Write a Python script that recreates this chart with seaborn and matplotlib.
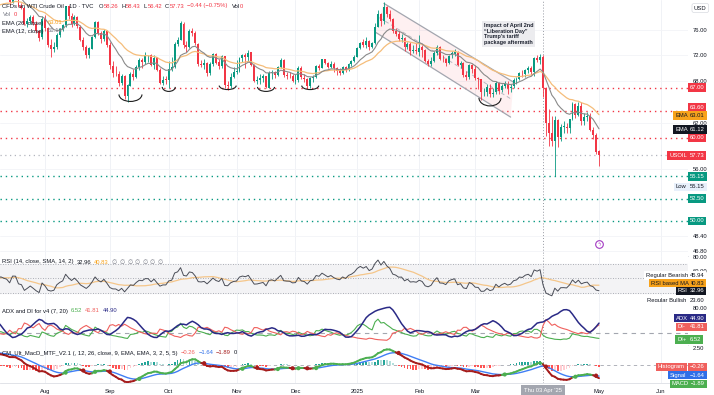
import numpy as np
import pandas as pd
import matplotlib
matplotlib.use("Agg")
import matplotlib.pyplot as plt
import seaborn as sns
from matplotlib.collections import LineCollection
from matplotlib.patches import Arc, Polygon
from matplotlib.transforms import ScaledTranslation
from matplotlib.ticker import FixedLocator, FuncFormatter, NullLocator

# ---------------- data (daily candles, TVC:USOIL) ----------------
holidays = ["2024-06-19", "2024-07-04", "2024-09-02", "2024-11-28", "2024-12-25",
            "2025-01-01", "2025-01-20", "2025-02-17", "2025-04-18", "2025-05-26"]

opens = [
    77.0, 74.2, 73.3, 74.1, 75.6, 75.6, 77.7, 78.9, 78.5, 78.6, 78.4, 80.3, 81.6, 82.1, 80.7, 81.6, 80.8, 80.9, 81.7,
    81.6, 83.4, 82.8, 83.8, 83.1, 82.3, 81.4, 82.1, 82.6, 82.2, 81.9, 80.7, 82.8, 82.8, 80.1, 79.8, 77.0, 77.6, 78.3, 77.1, 75.8, 74.8,
    77.9, 76.3, 73.5, 72.9, 73.2, 75.2, 76.2, 76.8, 80.1, 78.4, 77.0, 78.2, 76.6, 74.4, 73.2, 71.9, 73.0, 74.8, 77.4, 75.5, 74.5, 75.9,
    73.5, 70.3, 69.2, 69.1, 67.7, 68.7, 65.8, 67.3, 69.0, 68.6, 70.1, 71.2, 70.9, 71.9, 71.9, 70.4, 71.6, 69.7, 67.7, 68.2,
    68.2, 69.8, 70.1, 73.7, 74.4, 77.1, 73.6, 73.2, 75.9, 75.5, 73.8, 70.6, 70.4, 70.7, 69.2, 70.6, 72.1, 70.8, 70.2, 71.8, 67.4, 67.2, 68.6,
    69.3, 69.5, 71.5, 72.0, 71.7, 72.4, 70.4, 68.0, 68.1, 68.4, 68.7, 67.0, 69.2, 69.4, 68.9, 70.1, 71.2, 68.9, 68.8, 68.7,
    68.0, 68.1, 69.9, 68.5, 68.3, 67.2, 68.4, 68.6, 70.3, 70.0, 71.3, 70.7, 70.1, 70.6, 69.9, 69.5, 69.2, 70.1, 69.6, 70.6, 71.0,
    71.7, 73.1, 74.0, 73.6, 74.2, 73.3, 73.9, 76.6, 78.8, 77.5, 80.0, 78.7, 77.9, 75.8, 75.4, 74.6, 74.7, 73.2, 73.8, 72.6, 72.7,
    72.5, 73.2, 72.7, 71.0, 70.6, 71.0, 72.3, 73.3, 71.4, 71.3, 70.7, 71.9, 72.2, 72.5, 70.4, 70.7, 68.9, 68.6, 70.4,
    69.8, 68.4, 68.3, 66.3, 66.4, 67.0, 66.0, 66.3, 67.7, 66.6, 67.2, 67.6, 66.9, 67.2, 68.1, 68.3, 69.1, 69.0, 69.7, 69.9, 69.4,
    71.5, 71.2, 71.7, 67.0, 62.0, 60.7, 59.6, 62.4, 60.1, 61.5, 61.5, 61.3, 62.5, 64.7, 63.1, 64.3, 62.3, 62.8, 63.0, 61.0, 60.4,
    58.26]
highs = [
    77.3, 74.6, 74.6, 75.8, 76.0, 77.9, 79.0, 79.4, 79.0, 79.0, 80.5, 81.7, 82.3, 82.4, 81.8, 81.9, 81.4, 82.0, 82.2,
    83.6, 84.2, 83.9, 84.5, 83.3, 82.5, 82.5, 83.0, 83.0, 82.6, 82.0, 83.0, 83.5, 83.0, 80.7, 80.0, 78.0, 78.6, 78.5, 77.5, 76.1, 78.4,
    78.6, 76.6, 74.6, 74.1, 75.6, 76.4, 77.1, 80.2, 80.3, 79.0, 78.6, 78.4, 76.9, 74.9, 73.6, 73.3, 75.0, 77.6, 77.5, 75.9, 76.2, 76.0,
    74.0, 71.0, 70.2, 69.5, 69.0, 68.9, 67.6, 69.4, 69.8, 70.4, 71.5, 71.5, 72.4, 72.0, 72.1, 72.0, 71.7, 69.9, 68.7, 68.7,
    71.0, 71.7, 74.0, 74.9, 77.6, 77.3, 74.2, 76.2, 76.4, 75.8, 73.9, 71.2, 71.3, 70.9, 70.8, 72.3, 72.3, 71.3, 71.9, 71.8, 68.0, 69.2, 70.1,
    71.2, 71.7, 72.2, 72.3, 72.7, 72.5, 70.5, 68.8, 69.0, 69.1, 68.8, 69.5, 69.7, 69.5, 70.3, 71.5, 71.3, 69.3, 69.4, 69.0,
    69.0, 70.2, 70.2, 69.0, 68.5, 68.6, 68.9, 70.4, 70.6, 71.4, 71.4, 70.9, 71.0, 70.8, 70.1, 70.0, 70.3, 70.3, 70.7, 71.2, 72.0,
    73.3, 74.1, 74.6, 74.9, 74.3, 74.1, 77.2, 79.4, 79.0, 80.8, 80.2, 79.4, 78.0, 76.3, 75.8, 75.3, 74.8, 74.0, 74.0, 73.6, 73.9,
    75.2, 73.5, 73.0, 71.4, 71.6, 72.6, 73.6, 73.4, 71.9, 71.5, 72.0, 72.6, 73.0, 72.6, 71.0, 70.8, 69.5, 70.5, 70.6,
    70.4, 68.6, 68.3, 67.0, 67.6, 67.6, 66.9, 68.0, 67.9, 67.5, 68.0, 68.0, 67.5, 68.4, 68.6, 69.3, 69.7, 69.8, 70.2, 70.2, 71.6,
    71.9, 72.1, 71.9, 67.1, 63.9, 62.9, 62.9, 62.5, 61.9, 62.3, 62.0, 62.6, 64.9, 64.8, 64.9, 64.9, 63.3, 63.5, 63.4, 61.5, 60.6,
    58.43]
lows = [
    73.6, 72.5, 72.8, 73.8, 74.9, 75.3, 77.0, 77.9, 77.7, 77.8, 78.2, 79.9, 81.0, 80.6, 80.4, 80.5, 80.2, 80.4, 81.3,
    81.4, 82.6, 82.3, 82.9, 82.2, 80.9, 81.2, 81.9, 81.8, 81.4, 80.3, 80.6, 82.0, 79.9, 79.6, 76.8, 76.5, 77.0, 76.9, 75.5, 74.2, 74.6,
    75.8, 73.2, 71.7, 72.4, 72.9, 74.8, 75.8, 76.6, 77.9, 76.6, 76.8, 76.3, 74.2, 72.8, 71.5, 71.5, 72.9, 74.7, 75.2, 73.9, 74.2, 73.3,
    69.8, 68.6, 68.7, 67.2, 67.4, 65.3, 64.9, 67.2, 68.2, 68.5, 69.6, 70.0, 70.6, 70.9, 70.2, 69.8, 69.5, 67.5, 67.4, 67.5,
    66.9, 69.5, 70.0, 73.4, 74.3, 73.1, 72.4, 73.1, 75.1, 73.5, 70.2, 70.1, 69.8, 68.8, 68.9, 70.3, 70.5, 69.8, 70.0, 66.9, 66.7, 67.0, 68.4,
    69.0, 69.4, 70.9, 70.0, 71.1, 70.2, 67.9, 67.5, 67.6, 67.9, 66.9, 66.9, 68.3, 68.5, 68.7, 69.9, 68.6, 68.3, 68.4, 67.8,
    67.6, 67.9, 68.3, 67.8, 66.9, 67.0, 67.9, 68.4, 69.6, 69.9, 70.5, 69.9, 69.9, 69.3, 68.9, 68.9, 69.1, 69.4, 69.5, 70.3, 70.8,
    71.6, 72.9, 73.3, 73.1, 72.8, 73.1, 73.8, 76.5, 76.7, 77.1, 78.3, 77.6, 75.6, 75.1, 74.2, 74.0, 72.6, 72.9, 72.0, 72.3, 72.1,
    71.8, 71.7, 70.8, 70.2, 70.2, 70.9, 71.9, 71.2, 70.8, 70.2, 70.6, 71.5, 71.8, 70.2, 70.0, 68.6, 68.1, 68.3, 69.2,
    68.1, 66.8, 65.2, 65.8, 65.8, 65.6, 65.6, 66.1, 66.0, 66.3, 66.9, 66.0, 66.3, 66.9, 67.6, 68.1, 68.6, 68.6, 69.2, 68.9, 68.7,
    70.9, 70.5, 65.7, 60.2, 58.9, 58.9, 55.15, 58.8, 59.6, 60.6, 60.7, 60.6, 62.4, 62.7, 62.9, 61.7, 61.7, 62.2, 60.9, 59.8, 57.9,
    56.42]
closes = [
    74.22, 73.25, 74.07, 75.55, 75.53, 77.74, 78.90, 78.50, 78.62, 78.45, 80.33, 81.57, 82.17, 80.73, 81.63, 80.83, 80.90, 81.74, 81.54,
    83.38, 82.81, 83.88, 83.16, 82.33, 81.41, 82.10, 82.62, 82.21, 81.91, 80.76, 82.85, 82.82, 80.13, 79.78, 76.96, 77.59, 78.28, 77.16, 75.81, 74.73, 77.91,
    76.31, 73.52, 72.94, 73.20, 75.23, 76.19, 76.84, 80.06, 78.35, 76.98, 78.16, 76.65, 74.37, 73.17, 71.93, 73.01, 74.83, 77.42, 75.53, 74.52, 75.91, 73.55,
    70.34, 69.20, 69.15, 67.67, 68.71, 65.75, 67.31, 68.97, 68.65, 70.09, 71.19, 70.91, 71.95, 71.92, 70.37, 71.56, 69.69, 67.67, 68.18, 68.17,
    69.83, 70.10, 73.71, 74.38, 77.14, 73.57, 73.24, 75.85, 75.56, 73.83, 70.58, 70.39, 70.67, 69.22, 70.56, 72.09, 70.77, 70.19, 71.78, 67.38, 67.21, 68.61, 69.26,
    69.49, 71.47, 71.99, 71.69, 72.36, 70.38, 68.04, 68.12, 68.43, 68.70, 67.02, 69.16, 69.39, 68.87, 70.10, 71.24, 68.94, 68.77, 68.72, 68.00,
    68.10, 69.94, 68.54, 68.30, 67.20, 68.37, 68.59, 70.29, 70.02, 71.29, 70.71, 70.08, 70.58, 69.91, 69.46, 69.24, 70.10, 69.62, 70.60, 70.99, 71.72,
    73.13, 73.96, 73.56, 74.25, 73.32, 73.92, 76.57, 78.82, 77.50, 80.04, 78.68, 77.88, 75.83, 75.44, 74.62, 74.66, 73.17, 73.77, 72.62, 72.73, 72.53,
    73.16, 72.70, 71.03, 70.61, 71.00, 72.32, 73.32, 71.37, 71.29, 70.74, 71.85, 72.25, 72.48, 70.40, 70.70, 68.93, 68.62, 70.35, 69.76,
    68.37, 68.26, 66.31, 66.36, 67.04, 66.03, 66.25, 67.68, 66.55, 67.18, 67.58, 66.90, 67.16, 68.07, 68.28, 69.11, 69.00, 69.65, 69.92, 69.36, 71.48,
    71.20, 71.71, 66.95, 61.99, 60.70, 59.58, 62.35, 60.07, 61.50, 61.53, 61.33, 62.47, 64.68, 63.08, 64.31, 62.27, 62.79, 63.02, 61.05, 60.42, 58.21,
    57.73]

red_levels = [67.00, 63.60, 60.00]
green_levels = [55.15, 52.50, 50.00]
last_close = 57.73

month_labels = ["Aug", "Sep", "Oct", "Nov", "Dec", "2025", "Feb", "Mar", "May", "Jun"]
month_dates = ["2024-08-01", "2024-09-03", "2024-10-01", "2024-11-01", "2024-12-02",
               "2025-01-02", "2025-02-03", "2025-03-03", "2025-05-01", "2025-06-02"]
price_ticks = [76.0, 72.0, 68.0, 62.0, 56.0, 48.4, 46.8]

channel_upper_dates = ["2025-01-15", "2025-03-20"]
channel_upper = [80.6, 67.8]
channel_lower_dates = ["2025-01-10", "2025-03-19"]
channel_lower = [75.7, 62.8]

arc_dates = ["2024-09-12", "2024-10-01", "2024-10-29", "2024-11-15", "2024-12-09", "2025-03-10"]
arc_prices = [66.0, 67.1, 67.3, 67.1, 67.3, 65.5]
crosshair_date = "2025-04-03"

# sizes (style) of the hand-drawn arcs, pixels
arc_w_px = [23, 13, 17, 17, 17, 22]
arc_h_px = [14, 9, 8, 9, 8, 16]

# ---------------- frame ----------------
hol = np.array(holidays, dtype="datetime64[D]")
dates = pd.bdate_range("2024-06-03", "2025-05-01", freq="C", holidays=holidays)
assert len(dates) == len(opens) == len(highs) == len(lows) == len(closes)
df = pd.DataFrame({"open": opens, "high": highs, "low": lows, "close": closes}, index=dates)
df["x"] = np.arange(len(df), dtype=float)


def pos(d):
    d = pd.Timestamp(d)
    if d in df.index:
        return float(df.index.get_loc(d))
    return float(len(df) - 1 + np.busday_count(np.datetime64(df.index[-1].date()),
                                               np.datetime64(d.date()), holidays=hol))


# ---------------- indicators ----------------
c = df["close"]
df["ema12"] = c.ewm(span=12, adjust=False).mean()
df["ema26"] = c.ewm(span=26, adjust=False).mean()
delta = c.diff()
gain = delta.clip(lower=0).ewm(alpha=1 / 14, adjust=False).mean()
loss = (-delta).clip(lower=0).ewm(alpha=1 / 14, adjust=False).mean()
df["rsi"] = 100 - 100 / (1 + gain / loss)
df["rsi_ma"] = df["rsi"].rolling(14).mean()

h, l, cl = df["high"].values, df["low"].values, df["close"].values
n = len(cl)
tr = np.zeros(n); dmp = np.zeros(n); dmm = np.zeros(n)
tr[0] = h[0] - l[0]
for i in range(1, n):
    tr[i] = max(h[i] - l[i], abs(h[i] - cl[i - 1]), abs(l[i] - cl[i - 1]))
    upm, dnm = h[i] - h[i - 1], l[i - 1] - l[i]
    dmp[i] = max(upm, 0) if upm > dnm else 0
    dmm[i] = max(dnm, 0) if dnm > upm else 0
LEN = 7
s_tr = np.zeros(n); s_p = np.zeros(n); s_m = np.zeros(n)
for i in range(n):
    ptr, pp, pm = (s_tr[i - 1], s_p[i - 1], s_m[i - 1]) if i else (0.0, 0.0, 0.0)
    s_tr[i] = ptr - ptr / LEN + tr[i]
    s_p[i] = pp - pp / LEN + dmp[i]
    s_m[i] = pm - pm / LEN + dmm[i]
df["di_p"] = s_p / s_tr * 100
df["di_m"] = s_m / s_tr * 100
dx = np.abs(df["di_p"] - df["di_m"]) / (df["di_p"] + df["di_m"]) * 100
df["adx"] = dx.rolling(LEN).mean()

df["macd"] = df["ema12"] - df["ema26"]
df["signal"] = df["macd"].ewm(span=9, adjust=False).mean()
df["hist"] = df["macd"] - df["signal"]

# ---------------- style ----------------
sns.set_theme(style="white")
plt.rcParams["font.family"] = ["Liberation Sans", "DejaVu Sans"]
plt.rcParams["axes.unicode_minus"] = True
GREEN, RED, TXT = "#089981", "#f23645", "#131722"
FS = 4.2
W, H = 714, 395
PLOT_R = 688

fig = plt.figure(figsize=(W / 100, H / 100), dpi=100, facecolor="white")


def pane(top, bottom, share=None):
    return fig.add_axes([0, 1 - bottom / H, PLOT_R / W, (bottom - top) / H], sharex=share)


ax_p = pane(0, 256)
ax_r = pane(256, 302, ax_p)
ax_a = pane(302, 345, ax_p)
ax_m = pane(345, 383, ax_p)
axes = [ax_p, ax_r, ax_a, ax_m]

x0, x1 = pos("2024-08-01"), pos("2025-05-01")
PXB = (599 - 45) / (x1 - x0)
xlim = (x0 - 45 / PXB, x1 + (PLOT_R - 599) / PXB)
month_pos = [pos(d) for d in month_dates]
vis = df[df["x"] >= xlim[0] - 2]

# ---------------- main price pane ----------------
up = vis["close"] >= vis["open"]
col = np.where(up, GREEN, RED)
ax_p.vlines(vis["x"], vis["low"], vis["high"], colors=col, lw=0.6, zorder=3)
ax_p.bar(vis["x"], np.maximum((vis["close"] - vis["open"]).abs(), 0.04),
         bottom=np.minimum(vis["open"], vis["close"]), width=0.66, color=col, lw=0, zorder=4)
sns.lineplot(data=vis, x="x", y="ema26", ax=ax_p, color="#f5bd7a", lw=0.9, zorder=5, legend=False)
sns.lineplot(data=vis, x="x", y="ema12", ax=ax_p, color="#8a8a8a", lw=0.8, zorder=5, legend=False)

for v in red_levels:
    ax_p.axhline(v, color=RED, ls=(0, (1, 2.8)), lw=1.0, zorder=2)
for v in green_levels:
    ax_p.axhline(v, color=GREEN, ls=(0, (1, 2.8)), lw=1.0, zorder=2)
ax_p.axhline(last_close, color="#b2b5be", ls=(0, (1, 2.8)), lw=0.9, zorder=2)

# descending channel
xu = [pos(d) for d in channel_upper_dates]
xl = [pos(d) for d in channel_lower_dates]
ax_p.add_patch(Polygon([(xu[0], channel_upper[0]), (xu[1], channel_upper[1]),
                        (xl[1], channel_lower[1]), (xl[0], channel_lower[0])],
                       closed=True, fc=RED, alpha=0.07, ec="none", zorder=1))
ax_p.plot(xu, channel_upper, color="#a3a6af", lw=0.9, zorder=2)
ax_p.plot(xl, channel_lower, color="#a3a6af", lw=0.9, zorder=2)
ax_p.plot([(xu[0] + xl[0]) / 2, (xu[1] + xl[1]) / 2],
          [np.sqrt(channel_upper[0] * channel_lower[0]), np.sqrt(channel_upper[1] * channel_lower[1])],
          color="#b8bac2", lw=0.7, ls=(0, (4, 3)), zorder=2)

ax_p.set_yscale("log")
ax_p.set_ylim(46.3, 81.2)
ax_p.yaxis.set_major_locator(FixedLocator(price_ticks))
ax_p.yaxis.set_major_formatter(FuncFormatter(lambda v, _: f"{v:.2f}"))
ax_p.yaxis.set_minor_locator(NullLocator())
ax_p.grid(axis="y", color="#f3f4f7", lw=0.6)

# ---------------- RSI pane ----------------
ax_r.axhspan(30, 70, color="#f3f3f5", zorder=0)
for v in (70, 50, 30):
    ax_r.axhline(v, color="#9598a1", ls=(0, (1, 2)), lw=0.6, zorder=1)
sns.lineplot(data=vis, x="x", y="rsi_ma", ax=ax_r, color="#f5c68a", lw=0.9, legend=False)
sns.lineplot(data=vis, x="x", y="rsi", ax=ax_r, color="#4a4d57", lw=0.7, legend=False)
ax_r.set_ylim(17.6, 81.0)
ax_r.set_yticks([80, 60])
ax_r.yaxis.set_major_formatter(FuncFormatter(lambda v, _: f"{v:.2f}"))

# ---------------- ADX pane ----------------
ax_a.axhline(20, color="#a3a6af", ls=(0, (4, 4)), lw=0.8, zorder=1)
sns.lineplot(data=vis, x="x", y="di_p", ax=ax_a, color="#4caf50", lw=0.8, legend=False)
sns.lineplot(data=vis, x="x", y="di_m", ax=ax_a, color="#f0605d", lw=0.8, legend=False)
sns.lineplot(data=vis, x="x", y="adx", ax=ax_a, color="#2a2a86", lw=1.1, legend=False)
ax_a.set_ylim(-9.8, 95.1)
ax_a.set_yticks([80])
ax_a.yaxis.set_major_formatter(FuncFormatter(lambda v, _: f"{v:.2f}"))

# ---------------- MACD pane ----------------
hv = vis["hist"].values
hp = np.r_[hv[0], hv[:-1]]
hcol = np.where(hv >= 0, np.where(hv >= hp, "#26a69a", "#b2dfdb"),
                np.where(hv < hp, "#ff5252", "#ffcdd2"))
ax_m.bar(vis["x"], hv, width=0.6, color=hcol, lw=0, zorder=2)
ax_m.axhline(0, color="#a3a6af", ls=(0, (4, 4)), lw=0.6, zorder=1)
sns.lineplot(data=vis, x="x", y="signal", ax=ax_m, color="#3f7ef5", lw=1.0, legend=False, zorder=3)
mx, mv, sv = vis["x"].values, vis["macd"].values, vis["signal"].values
segs = np.stack([np.c_[mx[:-1], mv[:-1]], np.c_[mx[1:], mv[1:]]], axis=1)
scol = np.where(mv[1:] >= sv[1:], "#4caf50", "#a51c1c")
ax_m.add_collection(LineCollection(segs, colors=scol, linewidths=1.4, zorder=4, capstyle="round"))
above = mv >= sv
cross = np.where(above[1:] != above[:-1])[0] + 1
ax_m.scatter(mx[cross], sv[cross], s=9, c=np.where(above[cross], "#4caf50", "#a51c1c"), zorder=5, lw=0)
ax_m.set_ylim(-2.65, 2.94)
ax_m.set_yticks([2.5])
ax_m.yaxis.set_major_formatter(FuncFormatter(lambda v, _: f"{v:.2f}"))

# ---------------- common axes styling ----------------
for ax in axes:
    ax.set_xlim(*xlim)
    ax.set_xlabel("")
    ax.set_ylabel("")
    ax.yaxis.tick_right()
    ax.tick_params(axis="both", length=0, labelsize=FS, colors=TXT, pad=3.6)
    ax.set_xticks(month_pos)
    ax.grid(axis="x", color="#f0f2f6", lw=0.7)
    ax.set_axisbelow(True)
    for s in ax.spines.values():
        s.set_visible(False)
    ax.spines["bottom"].set_visible(True)
    ax.spines["bottom"].set_color("#dcdee4")
    ax.spines["bottom"].set_linewidth(0.6)
    ax.axvline(pos(crosshair_date), color="#9598a1", ls=(0, (1, 2)), lw=0.7, zorder=1)
for ax in axes[:-1]:
    ax.tick_params(labelbottom=False)
ax_m.set_xticklabels(month_labels)
ax_m.tick_params(axis="x", pad=4.5)

# hand-drawn arcs under the lows
for d, p, w, hh in zip(arc_dates, arc_prices, arc_w_px, arc_h_px):
    tr_ = fig.dpi_scale_trans + ScaledTranslation(pos(d), p, ax_p.transData)
    ax_p.add_patch(Arc((0, 0), w / 100, hh / 100, theta1=180, theta2=360,
                       transform=tr_, color="#1e1e1e", lw=0.8, zorder=6))

# annotation box
ax_p.text(484 / PLOT_R, 1 - 23 / 256,
          "Impact of April 2nd\n\u201cLiberation Day\u201d\nTrump\u2019s tariff\npackage aftermath",
          transform=ax_p.transAxes, ha="left", va="top", fontsize=4.0, fontweight="bold",
          color="#1e2330", linespacing=1.15, zorder=8,
          bbox=dict(boxstyle="square,pad=0.35", fc="#ececef", ec="none"))

# purple icon
ax_p.plot([pos("2025-05-01")], [47.5], marker="o", ms=5.5, mfc="white", mec="#a33ac2", mew=0.8, zorder=7)
ax_p.text(pos("2025-05-01"), 47.5, "\u03df", color="#a33ac2", fontsize=3.6, ha="center", va="center", zorder=8,
          family=["DejaVu Sans"])


# ---------------- right-side value tags ----------------
def tag(ax, y, text, fc, tc="white", xpx=690, dy=0, ec="none"):
    ax.annotate(text, xy=(xpx / PLOT_R, y), xycoords=("axes fraction", "data"),
                xytext=(0, dy), textcoords="offset pixels", ha="left", va="center",
                fontsize=FS, color=tc, annotation_clip=False, zorder=20,
                bbox=dict(boxstyle="square,pad=0.3", fc=fc, ec=ec, lw=0.4))


ORANGE = "#f7a21b"
tag(ax_p, 67.00, "67.00", RED)
tag(ax_p, 63.60, "63.60", RED, dy=4)
tag(ax_p, 63.01, "63.01", ORANGE, tc=TXT)
tag(ax_p, 63.01, "EMA", ORANGE, tc=TXT, xpx=675)
tag(ax_p, 61.12, "61.12", "#131722")
tag(ax_p, 61.12, "EMA", "#131722", xpx=675)
tag(ax_p, 60.00, "60.00", RED)
tag(ax_p, 57.73, "57.73", RED)
tag(ax_p, 57.73, "USOIL", RED, xpx=669)
tag(ax_p, 55.15, "55.15", GREEN)
tag(ax_p, 55.15, "55.15", "#e8f0fb", tc=TXT, dy=-10.5)
tag(ax_p, 55.15, "Low", "#e8f0fb", tc=TXT, xpx=676, dy=-10.5)
tag(ax_p, 52.50, "52.50", GREEN)
tag(ax_p, 50.00, "50.00", GREEN)
fig.text(694 / W, 1 - 8 / H, "USD", fontsize=FS, color=TXT, ha="left", va="center",
         bbox=dict(boxstyle="round,pad=0.35", fc="white", ec="#d8dae0", lw=0.5))

tag(ax_r, 45.94, "45.94", "white", tc=TXT, dy=6)
tag(ax_r, 45.94, "Regular Bearish", "white", tc=TXT, xpx=646, dy=6)
tag(ax_r, 40.83, "40.83", ORANGE, tc=TXT, dy=2)
tag(ax_r, 40.83, "RSI based MA", ORANGE, tc=TXT, xpx=651, dy=2)
tag(ax_r, 32.96, "32.96", "#131722")
tag(ax_r, 32.96, "RSI", "#131722", xpx=678)
tag(ax_r, 23.60, "23.60", "white", tc=TXT, dy=-2.5)
tag(ax_r, 23.60, "Regular Bullish", "white", tc=TXT, xpx=647, dy=-2.5)

tag(ax_a, 44.90, "44.90", "#2a2a86", dy=4.5)
tag(ax_a, 44.90, "ADX", "#2a2a86", xpx=676, dy=4.5)
tag(ax_a, 41.81, "41.81", "#f0605d", dy=-3)
tag(ax_a, 41.81, "DI-", "#f0605d", xpx=678, dy=-3)
tag(ax_a, 6.52, "6.52", "#4caf50", dy=-1)
tag(ax_a, 6.52, "DI+", "#4caf50", xpx=677, dy=-1)

tag(ax_m, -0.26, "\u22120.26", "#f0605d")
tag(ax_m, -0.26, "Histogram", "#f0605d", xpx=658)
tag(ax_m, -1.64, "\u22121.64", "#2f6fe8", dy=1)
tag(ax_m, -1.64, "Signal", "#2f6fe8", xpx=670, dy=1)
tag(ax_m, -1.89, "\u22121.89", "#4caf50", dy=-6)
tag(ax_m, -1.89, "MACD", "#4caf50", xpx=672, dy=-6)

# crosshair time label
ax_m.annotate("Thu 03 Apr '25", xy=(pos(crosshair_date), 0), xycoords=("data", "axes fraction"),
              xytext=(0, -7.5), textcoords="offset pixels", ha="center", va="center",
              fontsize=FS, color="white", annotation_clip=False, zorder=30,
              bbox=dict(boxstyle="square,pad=0.45", fc="#a3a6af", ec="none"))

# ---------------- legends (top-left of each pane), laid out piece by piece ----------------
renderer = fig.canvas.get_renderer()


def seq(xpx, ypx, pieces, gap=3.0):
    x = xpx
    for s, colr, g in pieces:
        fam = ["DejaVu Sans"] if "\u2205" in s else None
        kw = dict(family=fam) if fam else {}
        t = fig.text(x / W, 1 - ypx / H, s, fontsize=FS, color=colr, ha="left", va="center", **kw)
        x += t.get_window_extent(renderer).width + (gap if g is None else g)


seq(2, 6, [("CFDs on WTI Crude Oil \u00b7 1D \u00b7 TVC", TXT, 7)])
seq(99, 6, [("O", TXT, 0.4), ("58.26", RED, 3), ("H", TXT, 0.4), ("58.43", RED, 3),
            ("L", TXT, 0.4), ("56.42", RED, 3), ("C", TXT, 0.4), ("57.73", RED, 3),
            ("\u22120.44 (\u22120.75%)", RED, 4), ("Vol", TXT, 0.4), ("0", RED, 0)])
seq(3, 15, [("Vol", "#787b86", 3), ("0", RED, 0)])
seq(2, 23, [("EMA (26, close)", TXT, 4), ("63.01", ORANGE, 0)])
seq(2, 31, [("EMA (12, close)", TXT, 4), ("61.12", "#787b86", 0)])

seq(2, 262, [("RSI (14, close, SMA, 14, 2)", TXT, 3), ("32.96", TXT, 3), ("40.83", ORANGE, 3)]
    + [("\u2205", "#787b86", 2.5)] * 7)
seq(2, 311, [("ADX and DI for v4 (7, 20)", TXT, 3), ("6.52", "#4caf50", 3),
             ("41.81", "#f0605d", 3), ("44.90", "#2a2a86", 0)])
seq(2, 353, [("CM_Ult_MacD_MTF_V2.1 (, 12, 26, close, 9, EMA, EMA, 3, 2, 5, 5)", TXT, 3),
             ("\u22120.26", "#f0605d", 3), ("\u22121.64", "#2f6fe8", 3),
             ("\u22121.89", "#a51c1c", 3), ("0", TXT, 0)])

fig.savefig("out.png", dpi=100, facecolor="white")
